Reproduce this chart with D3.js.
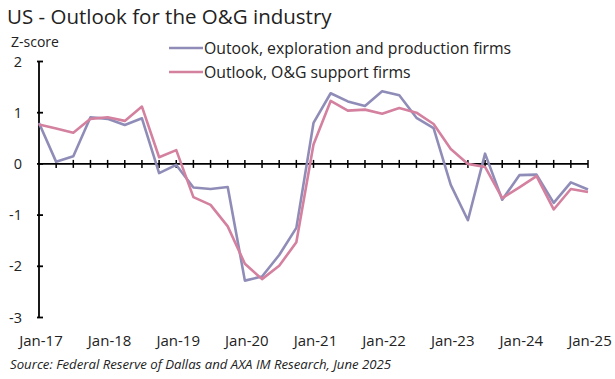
<!DOCTYPE html>
<html>
<head>
<meta charset="utf-8">
<script src="https://cdn.jsdelivr.net/npm/d3@7"></script>
<style>
  body { margin: 0; background: #fff; }
  svg { display: block; font-family: "Open Sans", "Noto Sans", sans-serif; }
</style>
</head>
<body>
<script>
// quarterly, Jan-17 .. Jan-25
var quarters = d3.range(33);
var yearLabels = ["Jan-17", "Jan-18", "Jan-19", "Jan-20", "Jan-21", "Jan-22", "Jan-23", "Jan-24", "Jan-25"];
var yTicks = [2, 1, 0, -1, -2, -3];

var exploration = [0.80, 0.04, 0.15, 0.91, 0.88, 0.76, 0.89, -0.18, -0.02, -0.46, -0.49, -0.45,
  -2.28, -2.20, -1.78, -1.25, 0.80, 1.38, 1.22, 1.13, 1.42, 1.34, 0.90, 0.70,
  -0.41, -1.10, 0.20, -0.70, -0.22, -0.21, -0.76, -0.36, -0.50];
var support = [0.77, 0.69, 0.61, 0.88, 0.91, 0.84, 1.12, 0.13, 0.27, -0.65, -0.80, -1.22,
  -1.95, -2.25, -1.99, -1.53, 0.38, 1.23, 1.04, 1.06, 0.98, 1.09, 1.00, 0.78,
  0.29, 0.00, -0.06, -0.67, -0.46, -0.24, -0.89, -0.49, -0.55];

var seriesNames = ["Outook, exploration and production firms", "Outlook, O&G support firms"];
var colors = ["#8f8db8", "#d4809f"];

var W = 615, H = 379;
var svg = d3.select("body").append("svg").attr("width", W).attr("height", H);

var x = d3.scaleLinear().domain([0, 32]).range([39, 588]);
var y = d3.scaleLinear().domain([-3, 2]).range([317.5, 61.5]);

// title
svg.append("text").attr("x", 7).attr("y", 24)
  .style("font-size", "20.5px").attr("fill", "#222")
  .text("US - Outlook for the O&G industry");

svg.append("text").attr("x", 11).attr("y", 47)
  .style("font-size", "14px").attr("fill", "#222")
  .text("Z-score");

// y axis
var gy = svg.append("g");
gy.append("line").attr("x1", x(0)).attr("x2", x(0))
  .attr("y1", y(2)).attr("y2", y(-3))
  .attr("stroke", "#000").attr("stroke-width", 1.8);
gy.selectAll(".yt").data(yTicks).enter().append("line")
  .attr("x1", x(0) - 2).attr("x2", x(0) + 4)
  .attr("y1", function(d) { return y(d); }).attr("y2", function(d) { return y(d); })
  .attr("stroke", "#000").attr("stroke-width", 1.8);
gy.selectAll(".yl").data(yTicks).enter().append("text")
  .attr("x", 22).attr("y", function(d) { return y(d) + 5; })
  .attr("text-anchor", "end").style("font-size", "14.5px").attr("fill", "#222")
  .text(function(d) { return d; });

// x axis at zero
var gx = svg.append("g");
gx.append("line").attr("x1", x(0)).attr("x2", x(32))
  .attr("y1", y(0)).attr("y2", y(0))
  .attr("stroke", "#000").attr("stroke-width", 1.8);
gx.selectAll(".xt").data(quarters.slice(1)).enter().append("line")
  .attr("x1", function(d) { return x(d); }).attr("x2", function(d) { return x(d); })
  .attr("y1", y(0) - 4).attr("y2", y(0) + 4)
  .attr("stroke", "#000").attr("stroke-width", 1.5);
gx.selectAll(".xl").data(yearLabels).enter().append("text")
  .attr("x", function(d, i) { return x(i * 4) + 2; }).attr("y", 346)
  .attr("text-anchor", "middle").style("font-size", "15px").attr("fill", "#222")
  .text(function(d) { return d; });

// lines
var line = d3.line()
  .x(function(d, i) { return x(i); })
  .y(function(d) { return y(d); });

[exploration, support].forEach(function(s, k) {
  svg.append("path").datum(s)
    .attr("d", line)
    .attr("fill", "none")
    .attr("stroke", colors[k])
    .attr("stroke-width", 2.6)
    .attr("stroke-linejoin", "round");
});

// legend
var lg = svg.append("g");
seriesNames.forEach(function(n, k) {
  var ly = 48 + k * 24;
  lg.append("line").attr("x1", 169).attr("x2", 203).attr("y1", ly).attr("y2", ly)
    .attr("stroke", colors[k]).attr("stroke-width", 2.6);
  lg.append("text").attr("x", 204).attr("y", ly + 5.5)
    .style("font-size", "15.8px").attr("fill", "#222").text(n);
});

// source
svg.append("text").attr("x", 10).attr("y", 369)
  .style("font-size", "13.2px").style("font-style", "italic").attr("fill", "#222")
  .text("Source: Federal Reserve of Dallas and AXA IM Research, June 2025");
</script>
</body>
</html>
